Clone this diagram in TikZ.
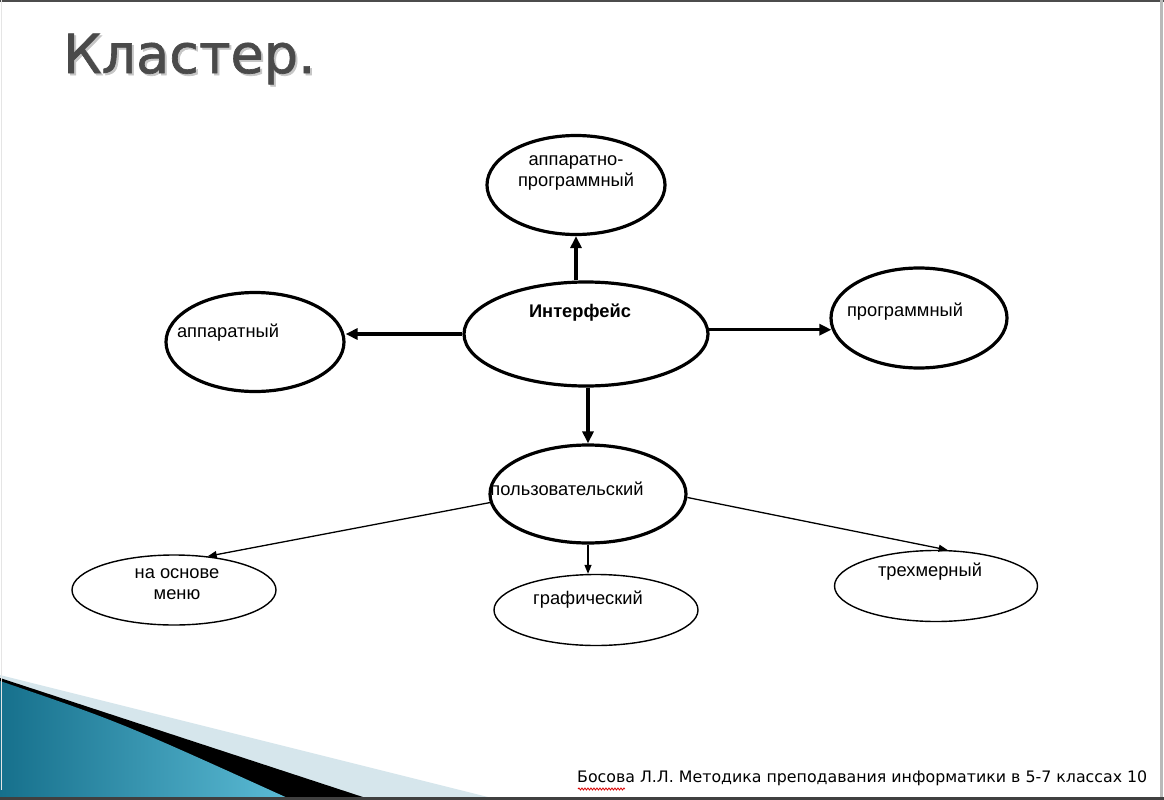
\documentclass[tikz,border=0pt]{standalone}
\usepackage{fontspec}
\usepackage{graphicx}
\setmainfont{Liberation Sans}
\newfontfamily\titlefont[FakeBold=1.2]{DejaVu Sans}
\newfontfamily\footfont{DejaVu Sans}
\usetikzlibrary{shapes.geometric,arrows.meta,decorations.pathmorphing}
\definecolor{teal1}{HTML}{16708C}
\definecolor{teal2}{HTML}{5CBCD6}
\definecolor{pale}{HTML}{D6E6EC}
\definecolor{titlegray}{HTML}{4A4A4A}
\tikzset{
  bigell/.style={ellipse, draw=black, line width=3.2pt, inner sep=0pt},
  smallell/.style={ellipse, draw=black, line width=1.4pt, inner sep=0pt},
  lbl/.style={inner sep=0pt, font=\fontsize{18.3}{21}\selectfont, align=center},
  bigarrow/.style={line width=3.2pt, -{Triangle[length=12pt,width=11pt]}},
  smallarrow/.style={line width=1.3pt, -{Triangle[length=9pt,width=7pt]}}
}
\begin{document}
\begin{tikzpicture}[x=1pt,y=-1pt]
\fill[white] (0,0) rectangle (1164,800);
\useasboundingbox (0,0) rectangle (1164,800);
% bottom-left decoration
\fill[pale] (0,675) -- (500,800) -- (0,800) -- cycle;
\fill[black] (0,678) -- (372,800) -- (0,800) -- cycle;
\shade[left color=teal1, right color=teal2] (0,681) .. controls (120,722) .. (292,800) -- (0,800) -- cycle;
% frame
\draw[gray!60!black, line width=2pt] (0,1) -- (1164,1);
\draw[gray!55, line width=3pt] (1161.5,0) -- (1161.5,800);
\draw[black!75, line width=3pt] (0,798.5) -- (1164,798.5);
\draw[gray!20, line width=1pt] (1,0) -- (1,790);
% title
\node[inner sep=0pt, anchor=west, text=gray!45] (titleshadow) at (65,61) {\resizebox{252pt}{!}{\titlefont Кластер.}};
\node[inner sep=0pt, anchor=west, text=titlegray] (title) at (63,59) {\resizebox{252pt}{!}{\titlefont Кластер.}};
% ellipses
\node[bigell, minimum width=178pt, minimum height=99pt] (ap) at (576,185) {};
\node[bigell, minimum width=244pt, minimum height=104pt] (inter) at (586,334) {};
\node[bigell, minimum width=178pt, minimum height=99pt] (hw) at (255,342) {};
\node[bigell, minimum width=176pt, minimum height=100pt] (prog) at (919,318) {};
\node[bigell, minimum width=196pt, minimum height=98pt] (user) at (588,494) {};
\node[smallell, minimum width=204pt, minimum height=70pt] (menu) at (174,590) {};
\node[smallell, minimum width=204pt, minimum height=71pt] (graf) at (596,610) {};
\node[smallell, minimum width=203pt, minimum height=71pt] (tri) at (936,586) {};
% labels
\node[lbl] (tap) at (576,173) {аппаратно-\\программный};
\node[lbl, font=\bfseries\fontsize{18.3}{21}\selectfont] (tinter) at (580,313) {Интерфейс};
\node[lbl] (thw) at (228,333) {аппаратный};
\node[lbl] (tprog) at (905,312) {программный};
\node[lbl] (tuser) at (567,489) {пользовательский};
\node[lbl] (tmenu) at (177,584) {на основе\\меню};
\node[lbl] (tgraf) at (588,600) {графический};
\node[lbl] (ttri) at (930,572) {трехмерный};
% arrows
\draw[bigarrow] (ap.south |- inter.north) -- (ap.south);
\draw[bigarrow] (inter.west) -- (inter.west -| hw.east);
\draw[bigarrow] (inter.2.3) -- (inter.2.3 -| prog.187);
\draw[bigarrow] (user.north |- inter.south) -- (user.north);
\draw[smallarrow] (user.185.8) -- (menu.45);
\draw[smallarrow] (user.south) -- (user.south |- graf.north);
\draw[smallarrow] (user.-2) -- (tri.72);
% footer
\node[inner sep=0pt, anchor=west] (foot) at (577,778) {\resizebox{570pt}{!}{\footfont Босова Л.Л. Методика преподавания информатики в 5-7 классах 10}};
\coordinate (sqa) at (578,789);
\coordinate (sqb) at (625,789);
\draw[red!85!black, line width=0.8pt, decorate, decoration={snake, amplitude=1pt, segment length=3pt}] (sqa) -- (sqb);
\end{tikzpicture}
\end{document}
